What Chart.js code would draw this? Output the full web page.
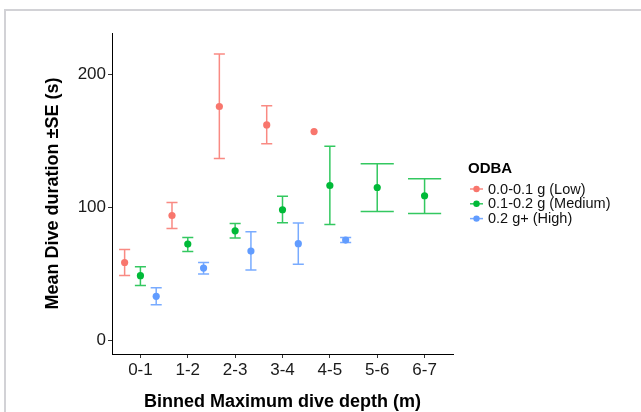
<!DOCTYPE html>
<html>
<head>
<meta charset="utf-8">
<script src="https://cdn.jsdelivr.net/npm/chart.js@4"></script>
<style>
  html, body { margin: 0; padding: 0; background: #fff; overflow: hidden; }
  canvas { display: block; }
</style>
</head>
<body>
<canvas id="chart" width="641" height="412"></canvas>
<script>
// ── Data ─────────────────────────────────────────────────────
const categories = ["0-1", "1-2", "2-3", "3-4", "4-5", "5-6", "6-7"];
const seriesNames = ["0.0-0.1 g (Low)", "0.1-0.2 g (Medium)", "0.2 g+ (High)"];
const seriesColors = ["#F8766D", "#00BA38", "#619CFF"];
const barColors = ["rgba(248,118,109,0.85)", "rgba(0,186,56,0.8)", "rgba(97,156,255,0.85)"];

const lowMean  = [58.7, 94.0, 175.8, 162.0, 157.0, null, null];
const lowLower = [49.0, 84.2, 136.8, 147.8, null, null, null];
const lowUpper = [68.5, 103.7, 215.3, 176.3, null, null, null];

const medMean  = [48.8, 72.5, 82.5, 98.3, 116.5, 115.0, 108.8];
const medLower = [41.5, 67.0, 77.0, 88.5, 87.3, 97.0, 95.5];
const medUpper = [55.5, 77.5, 88.0, 108.5, 146.0, 132.8, 121.5];

const highMean  = [33.3, 54.5, 67.3, 72.8, 75.5, null, null];
const highLower = [27.0, 50.0, 53.0, 57.3, 73.8, null, null];
const highUpper = [39.8, 58.7, 81.8, 88.3, 77.5, null, null];

const yTicks = [0, 100, 200];

const means = [lowMean, medMean, highMean];
const lowers = [lowLower, medLower, highLower];
const uppers = [lowUpper, medUpper, highUpper];

const FONT = "'Liberation Sans', Arial, 'DejaVu Sans', sans-serif";

// ── Dodge (like position_dodge) ──────────────────────────────
const buildData = (s) => {
    const pts = [];
    categories.forEach((c, i) => {
        if (means[s][i] == null) return;
        const present = means.map((m, k) => m[i] != null ? k : -1).filter(k => k >= 0);
        const n = present.length;
        const rank = present.indexOf(s);
        pts.push({
            x: i + 1 + (rank - (n - 1) / 2) / n,
            y: means[s][i],
            lo: lowers[s][i],
            hi: uppers[s][i],
            w: 0.7 / n
        });
    });
    return pts;
};

// ── Plugins ──────────────────────────────────────────────────
const frame = {
    id: "frame",
    beforeDraw(chart) {
        const ctx = chart.ctx;
        ctx.save();
        ctx.fillStyle = "#fff";
        ctx.fillRect(0, 0, chart.width, chart.height);
        ctx.fillStyle = "#d2d2d6";
        ctx.fillRect(4, 9, 2, chart.height - 9);
        ctx.fillRect(4, 9, chart.width - 4, 2);
        ctx.restore();
    }
};

const errorBars = {
    id: "errorBars",
    beforeDatasetsDraw(chart) {
        const { ctx, scales: { x, y } } = chart;
        ctx.save();
        ctx.lineWidth = 1.5;
        chart.data.datasets.forEach((ds, s) => {
            ctx.strokeStyle = barColors[s];
            ds.data.forEach(p => {
                if (p.lo == null || p.hi == null) return;
                const px = x.getPixelForValue(p.x);
                const x0 = x.getPixelForValue(p.x - p.w / 2);
                const x1 = x.getPixelForValue(p.x + p.w / 2);
                const y0 = y.getPixelForValue(p.lo);
                const y1 = y.getPixelForValue(p.hi);
                ctx.beginPath();
                ctx.moveTo(px, y0); ctx.lineTo(px, y1);
                ctx.moveTo(x0, y0); ctx.lineTo(x1, y0);
                ctx.moveTo(x0, y1); ctx.lineTo(x1, y1);
                ctx.stroke();
            });
        });
        ctx.restore();
    }
};

const legendBox = {
    id: "legendBox",
    afterDraw(chart) {
        const ctx = chart.ctx;
        const left = 468;
        ctx.save();
        ctx.fillStyle = "#000";
        ctx.textBaseline = "middle";
        ctx.textAlign = "left";
        ctx.font = `bold 15px ${FONT}`;
        ctx.fillText("ODBA", left, 169);
        ctx.font = `14.5px ${FONT}`;
        seriesNames.forEach((name, s) => {
            const cy = 189 + s * 14.8;
            ctx.strokeStyle = barColors[s];
            ctx.lineWidth = 1.5;
            ctx.beginPath();
            ctx.moveTo(left + 2, cy); ctx.lineTo(left + 15, cy);
            ctx.stroke();
            ctx.fillStyle = seriesColors[s];
            ctx.beginPath();
            ctx.arc(left + 8.5, cy, 3.2, 0, Math.PI * 2);
            ctx.fill();
            ctx.fillStyle = "#111";
            ctx.fillText(name, left + 20, cy + 0.5);
        });
        ctx.restore();
    }
};

// ── Chart ────────────────────────────────────────────────────
const ctx = document.getElementById("chart").getContext("2d");

new Chart(ctx, {
    type: "scatter",
    data: {
        datasets: seriesNames.map((name, s) => ({
            label: name,
            data: buildData(s),
            backgroundColor: seriesColors[s],
            borderWidth: 0,
            pointRadius: 3.6,
            pointHoverRadius: 3.6
        }))
    },
    options: {
        responsive: false,
        animation: false,
        events: [],
        layout: { padding: { top: 33, right: 188, bottom: 0, left: 0 } },
        plugins: {
            legend: { display: false },
            tooltip: { enabled: false }
        },
        scales: {
            x: {
                type: "linear",
                min: 0.4,
                max: 7.6,
                afterBuildTicks: s => { s.ticks = categories.map((c, i) => ({ value: i + 1 })); },
                afterFit: s => { s.height = 58; },
                ticks: {
                    callback: v => categories[Math.round(v) - 1],
                    autoSkip: false,
                    maxRotation: 0,
                    padding: 2,
                    color: "#1a1a1a",
                    font: { family: FONT, size: 17 }
                },
                grid: { drawOnChartArea: false, drawTicks: true, tickLength: 4, color: "#333" },
                border: { display: true, color: "#000", width: 1 },
                title: {
                    display: true,
                    text: "Binned Maximum dive depth (m)",
                    color: "#000",
                    font: { family: FONT, size: 18, weight: "bold", lineHeight: 1 },
                    padding: { top: 0, bottom: 1 }
                }
            },
            y: {
                type: "linear",
                min: -10,
                max: 231,
                afterBuildTicks: s => { s.ticks = yTicks.map(v => ({ value: v })); },
                afterFit: s => { s.width = 112; },
                ticks: {
                    padding: 2,
                    color: "#1a1a1a",
                    font: { family: FONT, size: 17 }
                },
                grid: { drawOnChartArea: false, drawTicks: true, tickLength: 4, color: "#333" },
                border: { display: true, color: "#000", width: 1 },
                title: {
                    display: true,
                    text: "Mean Dive duration ±SE (s)",
                    color: "#000",
                    font: { family: FONT, size: 18, weight: "bold", lineHeight: 1 },
                    padding: { top: 44, bottom: 0 }
                }
            }
        }
    },
    plugins: [frame, errorBars, legendBox]
});
</script>
</body>
</html>
